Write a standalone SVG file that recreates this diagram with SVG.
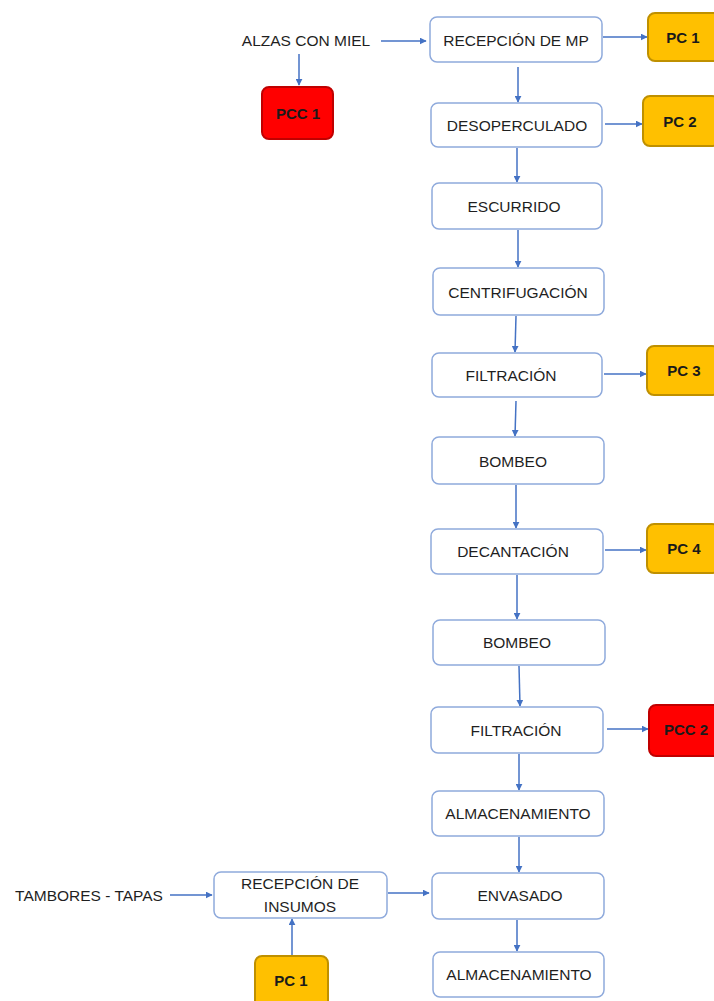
<svg xmlns="http://www.w3.org/2000/svg" width="714" height="1001" viewBox="0 0 714 1001">
<style>
.box{fill:#fff;stroke:#8FAADC;stroke-width:1.5}
.pc{fill:#FFC000;stroke:#BF9000;stroke-width:2}
.pcc{fill:#FF0000;stroke:#C00000;stroke-width:2}
.t{font-family:"Liberation Sans",Arial,sans-serif;font-size:15.5px;fill:#1f1f1f;text-anchor:middle;dominant-baseline:central}
.b{font-weight:bold;font-size:15px;fill:#1a1a1a}
.c line{stroke:#4472C4;stroke-width:1.5;marker-end:url(#ah)}
</style>
<defs>
<marker id="ah" viewBox="0 0 10 10" refX="9" refY="5" markerWidth="7" markerHeight="7" markerUnits="userSpaceOnUse" orient="auto"><path d="M0,0 L10,5 L0,10 z" fill="#4472C4"/></marker>
</defs>
<rect width="714" height="1001" fill="#fff"/>
<g class="c">
<line x1="381" y1="41" x2="426" y2="41"/>
<line x1="299" y1="54" x2="299" y2="85"/>
<line x1="603" y1="37" x2="647" y2="37"/>
<line x1="518" y1="67" x2="518" y2="102"/>
<line x1="605" y1="124" x2="642" y2="124"/>
<line x1="517" y1="148" x2="517" y2="182"/>
<line x1="518" y1="230" x2="518" y2="267"/>
<line x1="516" y1="316" x2="515" y2="352"/>
<line x1="604" y1="374" x2="646" y2="374"/>
<line x1="516" y1="401" x2="515" y2="436"/>
<line x1="516" y1="485" x2="516" y2="528"/>
<line x1="605" y1="550" x2="646" y2="550"/>
<line x1="517" y1="575" x2="517" y2="619"/>
<line x1="519" y1="666" x2="520" y2="706"/>
<line x1="607" y1="729" x2="648" y2="729"/>
<line x1="519" y1="754" x2="519" y2="790"/>
<line x1="519" y1="837" x2="519" y2="872"/>
<line x1="517" y1="920" x2="517" y2="951"/>
<line x1="170" y1="895" x2="212" y2="895"/>
<line x1="388" y1="893" x2="429" y2="893"/>
<line x1="292" y1="956" x2="292" y2="919"/>
</g>
<g id="alzas"><text class="t" x="306" y="40">ALZAS CON MIEL</text></g>
<g id="pcc1"><rect class="pcc" x="262" y="87" width="71" height="52" rx="7"/><text class="t b" x="298" y="113">PCC 1</text></g>
<g id="recepcion-mp"><rect class="box" x="430" y="17" width="172" height="45" rx="7"/><text class="t" x="516" y="40">RECEPCIÓN DE MP</text></g>
<g id="pc1-top"><rect class="pc" x="648" y="13" width="72" height="48" rx="7"/><text class="t b" x="683" y="37">PC 1</text></g>
<g id="desoperculado"><rect class="box" x="431" y="103" width="171" height="44" rx="7"/><text class="t" x="517" y="125">DESOPERCULADO</text></g>
<g id="pc2"><rect class="pc" x="643" y="96" width="76" height="50" rx="7"/><text class="t b" x="680" y="121">PC 2</text></g>
<g id="escurrido"><rect class="box" x="432" y="183" width="170" height="46" rx="7"/><text class="t" x="514" y="206">ESCURRIDO</text></g>
<g id="centrifugacion"><rect class="box" x="433" y="268" width="171" height="47" rx="7"/><text class="t" x="518" y="292">CENTRIFUGACIÓN</text></g>
<g id="filtracion1"><rect class="box" x="432" y="353" width="170" height="44" rx="7"/><text class="t" x="511" y="375">FILTRACIÓN</text></g>
<g id="pc3"><rect class="pc" x="647" y="346" width="72" height="49" rx="7"/><text class="t b" x="684" y="370">PC 3</text></g>
<g id="bombeo1"><rect class="box" x="432" y="437" width="172" height="47" rx="7"/><text class="t" x="513" y="461">BOMBEO</text></g>
<g id="decantacion"><rect class="box" x="431" y="529" width="172" height="45" rx="7"/><text class="t" x="513" y="551">DECANTACIÓN</text></g>
<g id="pc4"><rect class="pc" x="647" y="524" width="72" height="49" rx="7"/><text class="t b" x="684" y="548">PC 4</text></g>
<g id="bombeo2"><rect class="box" x="433" y="620" width="172" height="45" rx="7"/><text class="t" x="517" y="642">BOMBEO</text></g>
<g id="filtracion2"><rect class="box" x="431" y="707" width="172" height="46" rx="7"/><text class="t" x="516" y="730">FILTRACIÓN</text></g>
<g id="pcc2"><rect class="pcc" x="649" y="705" width="72" height="51" rx="7"/><text class="t b" x="686" y="729">PCC 2</text></g>
<g id="almacenamiento1"><rect class="box" x="432" y="791" width="172" height="45" rx="7"/><text class="t" x="518" y="813">ALMACENAMIENTO</text></g>
<g id="envasado"><rect class="box" x="432" y="873" width="172" height="46" rx="7"/><text class="t" x="520" y="895">ENVASADO</text></g>
<g id="almacenamiento2"><rect class="box" x="433" y="952" width="171" height="45" rx="7"/><text class="t" x="519" y="974">ALMACENAMIENTO</text></g>
<g id="tambores"><text class="t" x="89" y="895">TAMBORES - TAPAS</text></g>
<g id="recepcion-insumos"><rect class="box" x="214" y="872" width="173" height="46" rx="7"/><text class="t" x="300" y="883">RECEPCIÓN DE</text><text class="t" x="300" y="906">INSUMOS</text></g>
<g id="pc1-bottom"><rect class="pc" x="255" y="956" width="73" height="52" rx="7"/><text class="t b" x="291" y="980">PC 1</text></g>
</svg>
